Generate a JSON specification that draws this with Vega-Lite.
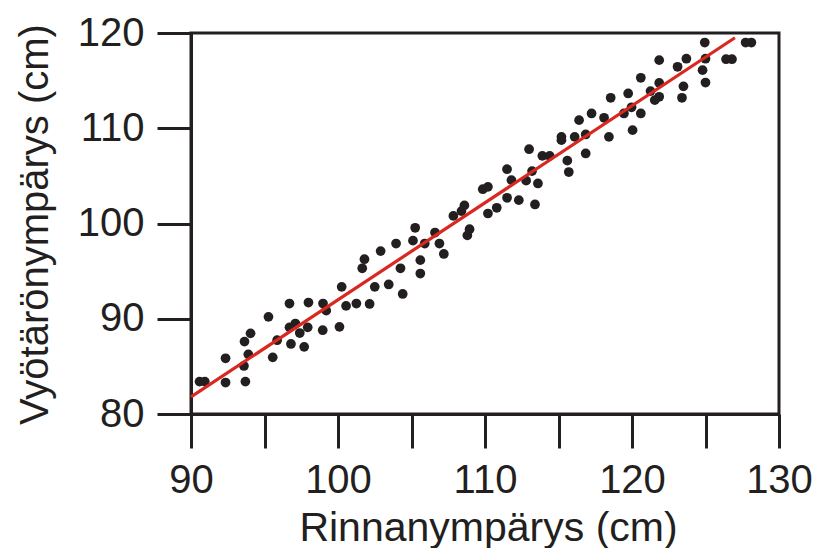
{
  "$schema": "https://vega.github.io/schema/vega-lite/v6.json",
  "width": 588,
  "height": 381,
  "autosize": "none",
  "padding": {"left": 191, "top": 33, "right": 34, "bottom": 134},
  "config": {
    "font": "Liberation Sans",
    "view": {"stroke": "#231f20", "strokeWidth": 3}
  },
  "layer": [
    {
      "data": {"values": [
        {"x": 90.58, "y": 83.4}, {"x": 90.94, "y": 83.4}, {"x": 92.35, "y": 83.3}, {"x": 93.7, "y": 83.4},
        {"x": 92.35, "y": 85.85}, {"x": 93.6, "y": 85.04}, {"x": 93.9, "y": 86.26}, {"x": 93.64, "y": 87.6},
        {"x": 94.05, "y": 88.47}, {"x": 95.56, "y": 85.95}, {"x": 95.86, "y": 87.75}, {"x": 95.27, "y": 90.2},
        {"x": 96.8, "y": 87.35}, {"x": 97.7, "y": 87.05}, {"x": 96.7, "y": 89.1}, {"x": 97.1, "y": 89.5},
        {"x": 97.4, "y": 88.5}, {"x": 97.94, "y": 89.1}, {"x": 98.96, "y": 88.8}, {"x": 100.1, "y": 89.15},
        {"x": 99.2, "y": 90.85}, {"x": 96.7, "y": 91.6}, {"x": 97.99, "y": 91.7}, {"x": 98.98, "y": 91.6},
        {"x": 100.55, "y": 91.35}, {"x": 101.25, "y": 91.6}, {"x": 102.15, "y": 91.55}, {"x": 100.25, "y": 93.35},
        {"x": 101.8, "y": 96.25}, {"x": 101.65, "y": 95.3}, {"x": 102.9, "y": 97.1}, {"x": 102.5, "y": 93.35},
        {"x": 103.45, "y": 93.6}, {"x": 104.4, "y": 92.6}, {"x": 104.25, "y": 95.3}, {"x": 105.6, "y": 96.15},
        {"x": 105.6, "y": 94.75}, {"x": 103.95, "y": 97.9}, {"x": 105.1, "y": 98.2}, {"x": 105.25, "y": 99.55},
        {"x": 105.9, "y": 97.9}, {"x": 106.6, "y": 99.05}, {"x": 106.9, "y": 97.9}, {"x": 107.2, "y": 96.8},
        {"x": 107.85, "y": 100.8}, {"x": 108.4, "y": 101.3}, {"x": 108.6, "y": 101.9}, {"x": 108.8, "y": 98.75},
        {"x": 108.95, "y": 99.4}, {"x": 109.85, "y": 103.6}, {"x": 110.2, "y": 103.85}, {"x": 110.2, "y": 101.05},
        {"x": 110.8, "y": 101.65}, {"x": 111.5, "y": 102.7}, {"x": 112.3, "y": 102.45}, {"x": 113.4, "y": 102.0},
        {"x": 111.8, "y": 104.55}, {"x": 112.8, "y": 104.5}, {"x": 113.6, "y": 104.2}, {"x": 111.5, "y": 105.7},
        {"x": 113.2, "y": 105.5}, {"x": 115.7, "y": 105.4}, {"x": 115.6, "y": 106.6}, {"x": 113.0, "y": 107.8},
        {"x": 113.9, "y": 107.1}, {"x": 114.4, "y": 107.1}, {"x": 115.2, "y": 109.1}, {"x": 115.2, "y": 108.75},
        {"x": 116.1, "y": 109.1}, {"x": 116.4, "y": 110.85}, {"x": 116.85, "y": 109.35}, {"x": 116.85, "y": 107.35},
        {"x": 117.25, "y": 111.55}, {"x": 118.1, "y": 111.1}, {"x": 118.43, "y": 109.1}, {"x": 118.55, "y": 113.2},
        {"x": 119.45, "y": 111.55}, {"x": 119.97, "y": 112.2}, {"x": 120.04, "y": 109.8}, {"x": 120.6, "y": 111.55},
        {"x": 119.74, "y": 113.65}, {"x": 120.6, "y": 115.3}, {"x": 121.26, "y": 113.9}, {"x": 121.85, "y": 113.3},
        {"x": 121.55, "y": 112.95}, {"x": 121.85, "y": 114.76}, {"x": 121.85, "y": 117.15}, {"x": 123.1, "y": 116.45},
        {"x": 123.7, "y": 117.3}, {"x": 123.5, "y": 114.4}, {"x": 123.4, "y": 113.2}, {"x": 124.8, "y": 116.1},
        {"x": 125.0, "y": 117.3}, {"x": 125.0, "y": 114.8}, {"x": 124.95, "y": 119.0}, {"x": 126.4, "y": 117.25},
        {"x": 126.8, "y": 117.25}, {"x": 127.73, "y": 119.0}, {"x": 128.12, "y": 119.0}
      ]},
      "mark": {"type": "circle", "size": 95, "color": "#231f20", "opacity": 1},
      "encoding": {
        "x": {
          "field": "x", "type": "quantitative",
          "scale": {"domain": [90, 130], "nice": false, "zero": false},
          "axis": {
            "values": [90, 95, 100, 105, 110, 115, 120, 125, 130],
            "labelExpr": "datum.value % 10 === 0 ? datum.label : ''",
            "grid": false,
            "domainColor": "#231f20", "domainWidth": 3,
            "tickColor": "#231f20", "tickWidth": 3, "tickSize": 34,
            "labelFontSize": 40, "labelColor": "#231f20", "labelPadding": 44,
            "labelBaseline": "alphabetic", "labelFlush": false, "labelOverlap": false,
            "title": "Rinnanympärys (cm)",
            "titleFontSize": 41, "titleFontWeight": "normal", "titleColor": "#231f20",
            "titleBaseline": "alphabetic", "titleY": 126, "titleX": 297
          }
        },
        "y": {
          "field": "y", "type": "quantitative",
          "scale": {"domain": [80, 120], "nice": false, "zero": false},
          "axis": {
            "values": [80, 90, 100, 110, 120],
            "grid": false,
            "domainColor": "#231f20", "domainWidth": 3,
            "tickColor": "#231f20", "tickWidth": 3, "tickSize": 34,
            "labelFontSize": 40, "labelColor": "#231f20", "labelPadding": 13,
            "labelFlush": false, "labelOverlap": false,
            "title": "Vyötärönympärys (cm)",
            "titleFontSize": 40, "titleFontWeight": "normal", "titleColor": "#231f20",
            "titleAngle": -90, "titleAlign": "center", "titleBaseline": "middle",
            "titleX": -156, "titleY": 191
          }
        }
      }
    },
    {
      "data": {"values": [{"x": 90, "y": 81.8}, {"x": 127, "y": 119.5}]},
      "mark": {"type": "line", "color": "#d8281f", "strokeWidth": 3.2},
      "encoding": {
        "x": {"field": "x", "type": "quantitative"},
        "y": {"field": "y", "type": "quantitative"}
      }
    }
  ]
}
